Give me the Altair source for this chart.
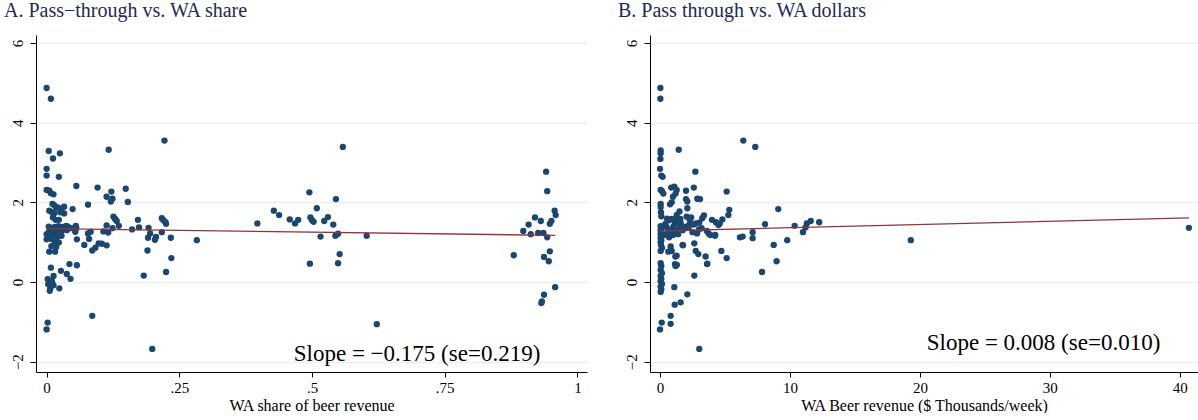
import altair as alt
import pandas as pd

SERIF = "Liberation Serif"
NAVY = "#1a476f"
MAROON = "#90353b"
TITLE_COLOR = "#1c2b57"

# ---- Panel A: WA share of beer revenue vs pass-through ----
share_x = [
    0.000, 0.008, 0.004, 0.012, 0.025, 0.000, 0.000, 0.023, 0.000, 0.005, 0.008, 0.013,
    0.011, 0.014, 0.018, 0.005, 0.009, 0.015, 0.021, 0.017, 0.023, 0.012, 0.028, 0.033, 0.033, 0.026,
    0.004, 0.009, 0.015, 0.022, 0.030, 0.037, 0.040, 0.047, 0.055, 0.056, 0.038, 0.028,
    0.000, 0.012, 0.022, 0.005, 0.017,
    0.000, 0.009, 0.015, 0.023, 0.008, 0.020, 0.028,
    0.005, 0.016, 0.009, 0.018,
    0.057, 0.071,
    0.008, 0.043, 0.057, 0.027, 0.038, 0.045,
    0.002, 0.013, 0.003, 0.013, 0.007, 0.006, 0.024, 0.010,
    0.002, 0.000,
    0.049, 0.056, 0.078, 0.096, 0.117, 0.113, 0.122, 0.124, 0.121, 0.149, 0.153,
    0.222,
    0.078, 0.083, 0.054, 0.086, 0.092, 0.098, 0.104, 0.113, 0.107, 0.116, 0.113, 0.126, 0.129,
    0.132, 0.136, 0.124, 0.161, 0.172, 0.174, 0.192, 0.191, 0.195, 0.204, 0.206, 0.190, 0.217,
    0.220, 0.224, 0.225, 0.217, 0.234, 0.235, 0.283,
    0.086, 0.183, 0.225, 0.199, 0.080,
    0.397, 0.428, 0.438, 0.458, 0.468, 0.474,
    0.495, 0.509, 0.497, 0.500, 0.503, 0.523, 0.530, 0.540, 0.545, 0.516, 0.544, 0.549, 0.603,
    0.558, 0.496, 0.549, 0.552, 0.622,
    0.880, 0.898, 0.908, 0.912, 0.920, 0.926, 0.936, 0.931, 0.943, 0.941, 0.943, 0.948, 0.951,
    0.957, 0.959, 0.937, 0.946, 0.948, 0.958, 0.937, 0.932, 0.933,
]
share_y = [
    4.87, 4.60, 3.29, 3.10, 3.23, 2.84, 2.67, 2.64, 2.31, 2.29, 2.23, 2.20,
    1.96, 1.93, 1.87, 1.79, 1.76, 1.73, 1.87, 1.56, 1.56, 1.62, 1.84, 1.89, 1.72, 1.75,
    1.39, 1.35, 1.38, 1.40, 1.38, 1.41, 1.39, 1.35, 1.41, 1.35, 1.30, 1.27,
    1.20, 1.22, 1.24, 1.28, 1.30,
    1.07, 1.08, 1.02, 0.99, 1.14, 1.12, 1.16,
    0.76, 0.76, 0.90, 0.88,
    1.07, 0.93,
    0.36, 0.45, 0.42, 0.28, 0.20, 0.08,
    0.07, 0.15, -0.06, -0.08, -0.15, -0.22, -0.16, 0.02,
    -1.02, -1.19,
    1.83, 2.41, 1.94, 2.37, 3.32, 2.14, 2.27, 2.09, 2.02, 2.34, 2.01,
    3.55,
    1.22, 1.26, 1.26, 0.79, 0.86, 0.97, 0.96, 0.92, 1.27, 1.24, 1.42, 1.64, 1.58,
    1.53, 1.41, 1.35, 1.32, 1.56, 1.37, 1.36, 1.11, 1.22, 1.06, 1.13, 0.79, 1.60,
    1.55, 1.50, 1.46, 1.25, 1.11, 0.60, 1.05,
    -0.85, 0.16, 0.25, -1.68, 1.08,
    1.47, 1.79, 1.68, 1.57, 1.47, 1.56,
    2.25, 1.85, 1.62, 1.55, 1.51, 1.53, 1.63, 1.44, 2.08, 1.14, 1.16, 1.21, 1.16,
    3.39, 0.46, 0.47, 0.70, -1.06,
    0.67, 1.28, 1.44, 1.20, 1.62, 1.23, 1.23, 1.53, 1.12, 2.77, 2.28, 1.46, 1.53,
    1.79, 1.68, 0.63, 0.52, 0.77, -0.13, -0.32, -0.53, -0.49,
]

# ---- Panel B: WA beer revenue ($ thousands/week) vs pass-through ----
dollars_x = [
    0.03, 0.03, 0.05, 0.05, 0.03, 1.44, 0.00, 0.10, 0.20, 2.72,
    0.05, 0.15, 0.26, 0.86, 1.10, 1.28, 2.00, 2.60, 5.13, 6.41, 7.33,
    1.00, 1.20, 2.00, 2.10, 2.87, 3.08, 0.77, 0.90, 2.10,
    0.05, 0.05, 0.07, 0.10, 1.50, 1.28, 1.15, 1.03, 2.05, 2.40, 2.30, 2.75, 3.02, 3.38, 3.25,
    1.60, 1.50, 1.75, 2.20, 2.50, 2.85, 3.00,
    4.30, 4.50, 4.80, 4.60, 4.00, 5.33, 5.26, 3.74, 4.23, 2.64, 1.77,
    0.82, 0.64, 0.90, 1.28, 2.75, 2.95, 3.51, 4.72, 5.13, 3.64,
    6.15, 6.36, 7.13, 7.13, 8.08, 9.10, 8.75, 9.79, 10.36, 11.00, 11.20, 11.30, 11.60, 12.25,
    7.85, 8.97, 19.30, 40.70,
    0.05, 0.10, 0.05, 0.10, 0.05, 0.10, 0.05, 0.10, 0.05, 0.08, 0.05, 0.15,
    0.50, 0.80, 1.00, 0.60, 1.20, 0.40, 0.70, 0.90, 1.20, 1.56, 0.54,
    0.30, 0.70, 1.00, 1.40, 1.90, 2.20, 2.60, 3.20, 3.60, 3.87, 4.25, 1.74,
    0.05, 0.10, 0.05, 0.15, 0.05, 0.10, 0.05, 0.15, 0.05, 0.10, 0.05,
    1.15, 1.20, 1.18, 1.30, 2.64, 3.62, 1.10, 2.10, 1.59, 1.13, 0.82, 0.82, 0.13, 0.00, 3.02,
]
dollars_y = [
    4.87, 4.60, 3.30, 3.23, 3.09, 3.32, 2.84, 2.67, 2.64, 2.77,
    2.31, 2.28, 2.22, 2.37, 2.39, 2.31, 2.29, 2.37, 2.27, 3.55, 3.39,
    2.14, 2.22, 2.08, 2.02, 2.09, 2.08, 1.95, 2.00, 1.85,
    1.96, 1.88, 1.75, 1.65, 1.77, 1.68, 1.47, 1.39, 1.64, 1.62, 1.55, 1.47, 1.49, 1.67, 1.60,
    1.47, 1.36, 1.30, 1.36, 1.25, 1.22, 1.32,
    1.50, 1.43, 1.57, 1.47, 1.56, 1.81, 1.68, 1.22, 1.16, 0.97, 0.92,
    0.89, 0.76, 0.78, 0.66, 0.78, 0.70, 0.64, 0.78, 0.60, 0.46,
    1.12, 1.14, 1.25, 1.10, 1.45, 1.83, 0.93, 1.05, 1.41, 1.25, 1.37, 1.47, 1.53, 1.50,
    0.25, 0.52, 1.05, 1.36,
    1.40, 1.35, 1.30, 1.25, 1.20, 1.15, 1.10, 1.05, 1.00, 0.92, 0.78, 0.85,
    1.38, 1.30, 1.35, 1.22, 1.28, 1.45, 1.55, 1.58, 1.56, 1.58, 1.59,
    1.18, 1.12, 1.18, 1.20, 1.38, 1.42, 1.44, 1.35, 1.28, 1.18, 1.18, 0.93,
    0.47, 0.40, 0.30, 0.22, 0.15, 0.08, 0.02, -0.05, -0.12, -0.18, -0.25,
    0.45, 0.40, 0.64, 0.43, 0.16, 0.45, -0.13, -0.31, -0.51, -0.57, -0.85, -1.05, -1.02, -1.19, -1.68,
]

# fitted regression lines (end points)
fit_a_x = [0.0, 0.958]
fit_a_y = [1.34, 1.17]
fit_b_x = [0.0, 40.7]
fit_b_y = [1.28, 1.61]

y_ticks = [-2, 0, 2, 4, 6]
share_ticks = [0, 0.25, 0.5, 0.75, 1]
dollar_ticks = [0, 10, 20, 30, 40]

titles = ["A. Pass\u2212through vs. WA share", "B. Pass through vs. WA dollars"]
x_titles = ["WA share of beer revenue", "WA Beer revenue ($ Thousands/week)"]
slope_labels = ["Slope = \u22120.175 (se=0.219)", "Slope = 0.008 (se=0.010)"]


def panel(xs, ys, fx, fy, xdomain, xticks, xtitle, title, label_expr, slope_text,
          tx, ty, width):
    pts_df = pd.DataFrame({"x": xs, "y": ys})
    fit_df = pd.DataFrame({"x": fx, "y": fy})
    txt_df = pd.DataFrame({"t": [slope_text]})
    xenc = alt.X(
        "x:Q",
        scale=alt.Scale(domain=xdomain, nice=False, zero=False),
        axis=alt.Axis(values=xticks, title=xtitle, grid=False, labelExpr=label_expr,
                      tickSize=5, labelPadding=3, titlePadding=2, labelFlush=False),
    )
    yenc = alt.Y(
        "y:Q",
        scale=alt.Scale(domain=[-2.26, 6.2], nice=False, zero=False),
        axis=alt.Axis(values=y_ticks, title=None, grid=True, labelAngle=270,
                      labelAlign="center", labelBaseline="bottom", tickSize=6,
                      labelPadding=5, labelFlush=False),
    )
    pts = alt.Chart(pts_df).mark_circle(size=40, color=NAVY, opacity=1).encode(x=xenc, y=yenc)
    line = alt.Chart(fit_df).mark_line(color=MAROON, strokeWidth=1.3).encode(x=xenc, y=yenc)
    txt = alt.Chart(txt_df).mark_text(
        align="right", baseline="middle", font=SERIF, fontSize=23, color="black"
    ).encode(x=alt.datum(tx), y=alt.datum(ty), text="t:N")
    return alt.layer(pts, line, txt).properties(
        width=width, height=337,
        title=alt.TitleParams(title, anchor="start", frame="group", dx=-32, offset=14),
    )


lab_a = "replace(toString(datum.value), '0.', '.')"
lab_b = "toString(datum.value)"

a = panel(share_x, share_y, fit_a_x, fit_a_y, [-0.02, 1.018], share_ticks, x_titles[0],
          titles[0], lab_a, slope_labels[0], 0.93, -1.81, 551)
b = panel(dollars_x, dollars_y, fit_b_x, fit_b_y, [-0.77, 41.4], dollar_ticks, x_titles[1],
          titles[1], lab_b, slope_labels[1], 38.5, -1.53, 548)

chart = (
    alt.hconcat(a, b, spacing=63, bounds="flush")
    .configure(padding={"left": 4, "top": 1, "right": 0, "bottom": 0}, background="white")
    .configure_view(stroke=None)
    .configure_axis(
        domainColor="black", tickColor="black", labelFont=SERIF, labelFontSize=15,
        labelColor="black", titleFont=SERIF, titleFontSize=16, titleColor="black",
        titleFontWeight="normal", gridColor="#e8eff2", gridWidth=1.5,
    )
    .configure_title(font=SERIF, fontSize=20, color=TITLE_COLOR, fontWeight="normal")
)

chart.save("out.html", embed_options={"renderer": "svg", "actions": False})
